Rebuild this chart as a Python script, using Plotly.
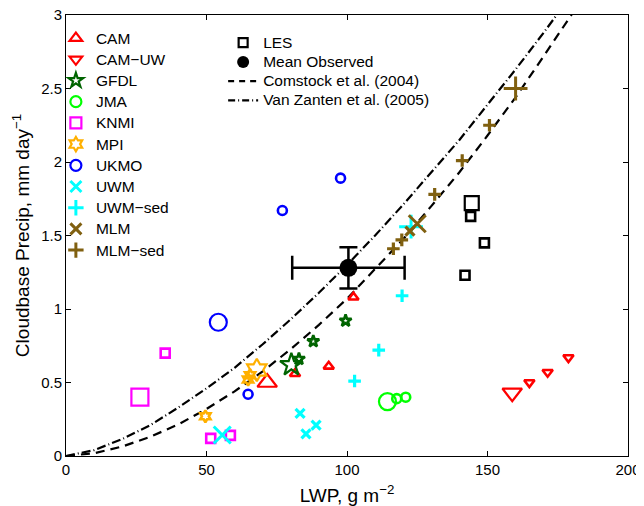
import plotly.graph_objects as go

# ---------------- data ----------------
cam_lwp = [71.6, 81.5, 93.5, 102.3]
cam_precip = [0.50, 0.56, 0.61, 1.08]
camuw_lwp = [158.8, 164.9, 171.4, 178.8]
camuw_precip = [0.43, 0.50, 0.57, 0.67]
gfdl_lwp = [80.2, 82.9, 88.0, 99.5]
gfdl_precip = [0.62, 0.66, 0.78, 0.92]
jma_lwp = [114.4, 117.7, 120.9]
jma_precip = [0.37, 0.39, 0.40]
knmi_lwp = [26.3, 35.3, 51.5, 58.5]
knmi_precip = [0.40, 0.70, 0.12, 0.14]
mpi_lwp = [67.9, 65.5, 64.8, 49.6]
mpi_precip = [0.585, 0.55, 0.52, 0.27]
ukmo_lwp = [54.2, 64.8, 77.0, 97.7]
ukmo_precip = [0.91, 0.42, 1.67, 1.89]
uwm_lwp = [55.6, 83.3, 89.0, 85.4]
uwm_precip = [0.143, 0.29, 0.21, 0.15]
uwmsed_lwp = [122.8, 119.6, 111.3, 102.7]
uwmsed_precip = [1.56, 1.09, 0.72, 0.51]
mlm_lwp = [125.0, 122.4]
mlm_precip = [1.58, 1.53]
mlmsed_lwp = [160.0, 116.5, 119.5, 131.2, 141.0, 150.7]
mlmsed_precip = [2.50, 1.41, 1.47, 1.78, 2.01, 2.25]
les_lwp = [144.4, 144.0, 148.9, 142.0]
les_precip = [1.72, 1.63, 1.45, 1.23]
obs_lwp = [100.5]
obs_precip = [1.28]
obs_lwp_err = [20.0]
obs_precip_err = [0.14]

curve_lwp = [0, 10, 20, 30, 40, 50, 60, 70, 80, 90, 100, 110, 120, 130, 140, 150, 160, 170, 180, 190]
comstock_precip = [0, 0.019, 0.064, 0.131, 0.215, 0.32, 0.44, 0.576, 0.727, 0.892, 1.07,
                   1.27, 1.475, 1.70, 1.93, 2.18, 2.44, 2.72, 3.0, 3.29]
vanzanten_precip = [0, 0.04, 0.115, 0.21, 0.33, 0.46, 0.60, 0.76, 0.93, 1.11, 1.30,
                    1.50, 1.71, 1.93, 2.15, 2.39, 2.63, 2.88, 3.14, 3.40]

x_ticks = [0, 50, 100, 150, 200]
y_ticks = [0, 0.5, 1, 1.5, 2, 2.5, 3]
y_tick_labels = ["0", "0.5", "1", "1.5", "2", "2.5", "3"]

# ---------------- style ----------------
FONT = "Liberation Sans, Arial, Helvetica, sans-serif"
BIG, SMALL, LEG = 17, 9, 11
LW_BIG, LW_SMALL = 2.2, 2.6
TXT = 15.5


def leg_text(s):
    return f'<span style="font-size:{TXT}px">{s}</span>'


models = [
    ("CAM", cam_lwp, cam_precip, "triangle-up-open", "#ff0000"),
    ("CAM−UW", camuw_lwp, camuw_precip, "triangle-down-open", "#ff0000"),
    ("GFDL", gfdl_lwp, gfdl_precip, "star-open", "#006400"),
    ("JMA", jma_lwp, jma_precip, "circle-open", "#00ff00"),
    ("KNMI", knmi_lwp, knmi_precip, "square-open", "#ff00ff"),
    ("MPI", mpi_lwp, mpi_precip, "hexagram-open", "#ffb000"),
    ("UKMO", ukmo_lwp, ukmo_precip, "circle-open", "#0000ff"),
    ("UWM", uwm_lwp, uwm_precip, "x-thin-open", "#00ffff"),
    ("UWM−sed", uwmsed_lwp, uwmsed_precip, "cross-thin-open", "#00ffff"),
    ("MLM", mlm_lwp, mlm_precip, "x-thin-open", "#806010"),
    ("MLM−sed", mlmsed_lwp, mlmsed_precip, "cross-thin-open", "#806010"),
]

fig = go.Figure()

# curves
fig.add_trace(go.Scatter(x=curve_lwp, y=comstock_precip, mode="lines",
                         line=dict(color="black", width=2.2, dash="9px,6px"),
                         showlegend=False, hoverinfo="skip"))
fig.add_trace(go.Scatter(x=curve_lwp, y=vanzanten_precip, mode="lines",
                         line=dict(color="black", width=2.2, dash="9px,3px,1px,3px"),
                         showlegend=False, hoverinfo="skip"))

# model points
for name, xs, ys, sym, col in models:
    n = len(xs)
    sizes = [BIG] + [SMALL] * (n - 1)
    thin = "thin" in sym
    widths = [3.0 if thin else LW_BIG] + [3.2 if thin else LW_SMALL] * (n - 1)
    fig.add_trace(go.Scatter(
        x=xs, y=ys, mode="markers", showlegend=False,
        marker=dict(symbol=sym, size=sizes, color=col, opacity=1,
                    line=dict(color=col, width=widths))))

# LES
fig.add_trace(go.Scatter(x=les_lwp, y=les_precip, mode="markers", showlegend=False,
                         marker=dict(symbol="square-open", color="black", opacity=1,
                                     size=[BIG - 3] + [SMALL] * 3,
                                     line=dict(color="black", width=[LW_BIG] + [LW_SMALL] * 3))))
# Mean observed
fig.add_trace(go.Scatter(
    x=obs_lwp, y=obs_precip, mode="markers", showlegend=False,
    marker=dict(symbol="circle", color="black", size=18, opacity=1),
    error_x=dict(type="data", array=obs_lwp_err, color="black", thickness=2.5, width=12),
    error_y=dict(type="data", array=obs_precip_err, color="black", thickness=2.5, width=9)))

# legend 1 entries
for i, (name, xs, ys, sym, col) in enumerate(models):
    thin = "thin" in sym
    fig.add_trace(go.Scatter(
        x=[None], y=[None], mode="markers", name=leg_text(name), legend="legend",
        legendgroup=f"g{i}",
        marker=dict(symbol=sym, size=LEG, color=col,
                    line=dict(color=col, width=3 if thin else LW_BIG))))

# legend 2 entries
fig.add_trace(go.Scatter(x=[None], y=[None], mode="markers", name=leg_text("LES"),
                         legend="legend2", legendgroup="h0",
                         marker=dict(symbol="square-open", size=9, color="black",
                                     line=dict(color="black", width=LW_BIG))))
fig.add_trace(go.Scatter(x=[None], y=[None], mode="markers", name=leg_text("Mean Observed"),
                         legend="legend2", legendgroup="h1",
                         marker=dict(symbol="circle", size=12, color="black")))
fig.add_trace(go.Scatter(x=[None], y=[None], mode="lines",
                         name=leg_text("Comstock et al. (2004)"),
                         legend="legend2", legendgroup="h2",
                         line=dict(color="black", width=2.2, dash="6px,5px")))
fig.add_trace(go.Scatter(x=[None], y=[None], mode="lines",
                         name=leg_text("Van Zanten et al. (2005)"),
                         legend="legend2", legendgroup="h3",
                         line=dict(color="black", width=2.2, dash="7px,3px,1px,3px")))

axis_common = dict(showline=True, linecolor="black", linewidth=1, mirror="ticks",
                   ticks="inside", ticklen=5, tickcolor="black", showgrid=False,
                   zeroline=False, automargin=False, ticklabeloverflow="allow",
                   tickfont=dict(size=15, color="black", family=FONT))

# the page adds an 8px body margin, so the margins are offset to compensate
fig.update_layout(
    width=644, height=506,
    margin=dict(l=58, r=24, t=7, b=58, autoexpand=False),
    paper_bgcolor="white", plot_bgcolor="white",
    font=dict(family=FONT, size=14, color="black"),
    xaxis=dict(range=[0, 200], tickvals=x_ticks,
               title=dict(text="LWP, g m<sup>−2</sup>", font=dict(size=19), standoff=11),
               **axis_common),
    yaxis=dict(range=[0, 3], tickvals=y_ticks, ticktext=y_tick_labels,
               title=dict(text="Cloudbase Precip, mm day<sup>−1</sup>", font=dict(size=19),
                          standoff=6),
               **axis_common),
    legend=dict(x=-0.018, y=0.983, xanchor="left", yanchor="top",
                bgcolor="rgba(0,0,0,0)", borderwidth=0, font=dict(size=14),
                traceorder="grouped", tracegroupgap=0, itemwidth=30),
    legend2=dict(x=0.2796, y=0.9705, xanchor="left", yanchor="top",
                 bgcolor="rgba(0,0,0,0)", borderwidth=0, font=dict(size=12.5),
                 traceorder="grouped", tracegroupgap=0, itemwidth=30),
)

fig.write_html("out.html")
